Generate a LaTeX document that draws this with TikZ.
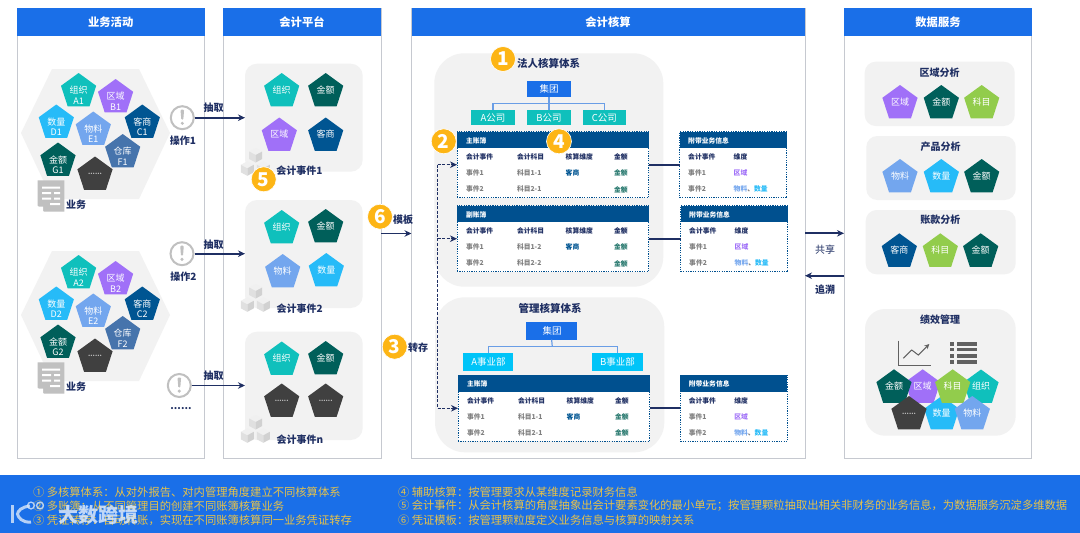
\documentclass[tikz,border=0pt]{standalone}
\usepackage{fontspec}
\setmainfont{Noto Sans CJK SC}
\usetikzlibrary{arrows.meta,shapes.geometric,fit}
\definecolor{hdr}{HTML}{1A6FE8}
\definecolor{navy}{HTML}{1F2F63}
\definecolor{pnl}{HTML}{C6C9D0}
\definecolor{soft}{HTML}{F2F2F2}
\definecolor{tblh}{HTML}{00508F}
\definecolor{cOrg}{HTML}{0FC0BC}
\definecolor{cReg}{HTML}{A070F8}
\definecolor{cCus}{HTML}{005592}
\definecolor{cQty}{HTML}{26BBF8}
\definecolor{cMat}{HTML}{73A6EE}
\definecolor{cWar}{HTML}{4674AC}
\definecolor{cAmt}{HTML}{005F5A}
\definecolor{cDot}{HTML}{404040}
\definecolor{cSub}{HTML}{92CC4C}
\definecolor{cAmtT}{HTML}{2A7A70}
\definecolor{cBU}{HTML}{00C4F8}
\definecolor{cGold}{HTML}{FDB515}
\definecolor{cNote}{HTML}{E6C24A}
\definecolor{cLine}{HTML}{6A9EE6}
\definecolor{cGray}{HTML}{808080}
\definecolor{cIcon}{HTML}{C0C0C0}
\definecolor{cMark}{HTML}{DCE9FA}
\tikzset{
  fs/.style={font=\fontsize{#1pt}{#1pt}\selectfont},
  bfs/.style={font=\fontsize{#1pt}{#1pt}\selectfont\bfseries},
  tx/.style={inner sep=0pt,outer sep=0pt},
  box/.style={inner sep=0pt,outer sep=0pt},
  panel/.style={box,draw=pnl,line width=1pt,fill=white},
  header/.style={box,fill=hdr,text=white,bfs=11.3},
  softbox/.style={box,fill=soft,rounded corners=#1},
  pentshape/.style={regular polygon,regular polygon sides=5,minimum size=37pt,inner sep=0pt,outer sep=0pt,fill=#1},
  badge/.style={circle,fill=cGold,draw=white,line width=.6pt,minimum size=25pt,inner sep=0pt,text=white,bfs=19},
  tipline/.style={draw=navy,line width=1.8pt,-{Stealth[length=7pt,width=6.5pt]}},
  plainline/.style={draw=navy,line width=1.8pt},
  dashline/.style={draw=navy,line width=1.1pt,dash pattern=on 3pt off 1.6pt},
  dashtip/.style={dashline,-{Stealth[length=7pt,width=6.5pt]}},
  org/.style={draw=cLine,line width=1.2pt},
  tbl/.style={box,draw=tblh,line width=1pt,dash pattern=on 1.2pt off 1.2pt,fill=white},
  tblhead/.style={box,fill=tblh},
  warn/.style={circle,draw=cIcon,line width=2pt,fill=white,minimum size=23pt,inner sep=0pt},
}
\newcounter{nid}
\newcommand\lab[4][]{\stepcounter{nid}\node[tx,#1] (n\arabic{nid}) at (#2,#3) {#4};}
\newcommand\bx[6][]{\node[#1,fit={(#3,#4)(#5,#6)}] (#2) {};}
% pentagon with one line
\newcommand\penta[4]{\stepcounter{nid}\node[pentshape=#3] (n\arabic{nid}) at (#1,#2) {};
  \pgfmathsetmacro\ly{#2-1.5}\lab[fs=9,text=white]{#1}{\ly}{#4}}
% pentagon with two lines
\newcommand\pentb[5]{\stepcounter{nid}\node[pentshape=#3] (n\arabic{nid}) at (#1,#2) {};
  \pgfmathsetmacro\ly{#2-1.2}\lab[fs=9,text=white]{#1}{\ly}{#4}
  \pgfmathsetmacro\ly{#2+9.6}\lab[fs=9,text=white]{#1}{\ly}{#5}}
\newcommand\pentd[2]{\stepcounter{nid}\node[pentshape=cDot] (n\arabic{nid}) at (#1,#2) {};
  \pgfmathsetmacro\ly{#2-1}\lab[bfs=6.5,text=white!75!black]{#1}{\ly}{......}}
% business hexagon: suffix, y offset
\newcommand\bizgroup[2]{\begin{scope}[yshift=-#2pt]
  \fill[soft] (21,133)--(52,69)--(139,69)--(170,133)--(139,199)--(52,199)--cycle;
  \pentb{78.6}{91.5}{cOrg}{组织}{A#1}
  \pentb{115.6}{97.5}{cReg}{区域}{B#1}
  \pentb{142.3}{123}{cCus}{客商}{C#1}
  \pentb{56.3}{123}{cQty}{数量}{D#1}
  \pentb{93.3}{130}{cMat}{物料}{E#1}
  \pentb{122.7}{152.5}{cWar}{仓库}{F#1}
  \pentb{58}{161}{cAmt}{金额}{G#1}
  \pentd{95}{175}
  % document icon
  \fill[cIcon] (37.7,180.3)--(64.3,180.3)--(64.3,211.7)--(44,211.7)--(37.7,205.5)--cycle;
  \fill[white] (42,186.5) rectangle (60,188.5) (42,192) rectangle (51,194) (54,192) rectangle (60,194)
     (42,197.5) rectangle (51,199.5) (54,197.5) rectangle (60,199.5) (50,203) rectangle (60,205);
  \fill[white] (38,206.5)--(43,211.7)--(43,206.5)--cycle;
  \lab[bfs=10,text=navy]{76}{205}{业务}
\end{scope}}
% cube trio
\newcommand\cube[2]{\begin{scope}[shift={(#1,#2)}]
  \fill[black!6] (0,-7)--(6.5,-3.5)--(0,0)--(-6.5,-3.5)--cycle;
  \fill[black!12] (-6.5,-3.5)--(0,0)--(0,7.5)--(-6.5,4)--cycle;
  \fill[black!18] (6.5,-3.5)--(0,0)--(0,7.5)--(6.5,4)--cycle;
\end{scope}}
\newcommand\cubes[1]{\cube{255.7}{#1}\pgfmathsetmacro\cy{#1+13.3}\cube{247.3}{\cy}\cube{263.3}{\cy}}
% main ledger table: name, x0, y0, title, rows
\newcommand\mainT[6]{%
  \pgfmathsetmacro\xb{#2+191.7}\pgfmathsetmacro\yb{#3+66}\pgfmathsetmacro\yh{#3+16.6}
  \bx[tbl]{#1}{#2}{#3}{\xb}{\yb}
  \bx[tblhead]{#1h}{#2}{#3}{\xb}{\yh}
  \pgfmathsetmacro\ca{#2+9}\pgfmathsetmacro\cb{#2+60}\pgfmathsetmacro\cc{#2+108.7}\pgfmathsetmacro\cd{#2+157}
  \pgfmathsetmacro\ra{#3+9}\pgfmathsetmacro\rb{#3+25.2}\pgfmathsetmacro\rc{#3+41.4}\pgfmathsetmacro\rd{#3+57.7}
  \lab[bfs=6.8,text=white,anchor=west]{\ca}{\ra}{#4}
  \lab[bfs=6.8,text=navy,anchor=west]{\ca}{\rb}{会计事件}
  \lab[bfs=6.8,text=navy,anchor=west]{\cb}{\rb}{会计科目}
  \lab[bfs=6.8,text=navy,anchor=west]{\cc}{\rb}{核算维度}
  \lab[bfs=6.8,text=navy,anchor=west]{\cd}{\rb}{金额}
  \lab[bfs=6.8,text=cGray,anchor=west]{\ca}{\rc}{事件1}
  \lab[bfs=6.8,text=cGray,anchor=west]{\cb}{\rc}{#5}
  \lab[bfs=6.8,text=cCus,anchor=west]{\cc}{\rc}{客商}
  \lab[bfs=6.8,text=cAmtT,anchor=west]{\cd}{\rc}{金额}
  \lab[bfs=6.8,text=cGray,anchor=west]{\ca}{\rd}{事件2}
  \lab[bfs=6.8,text=cGray,anchor=west]{\cb}{\rd}{#6}
  \lab[bfs=6.8,text=cAmtT,anchor=west]{\cd}{\rd}{金额}
}
\newcommand\sideT[3]{%
  \pgfmathsetmacro\xb{#2+107}\pgfmathsetmacro\yb{#3+66}\pgfmathsetmacro\yh{#3+16.6}
  \bx[tbl]{#1}{#2}{#3}{\xb}{\yb}
  \bx[tblhead]{#1h}{#2}{#3}{\xb}{\yh}
  \pgfmathsetmacro\ca{#2+8.5}\pgfmathsetmacro\cb{#2+54}
  \pgfmathsetmacro\ra{#3+9}\pgfmathsetmacro\rb{#3+25.2}\pgfmathsetmacro\rc{#3+41.4}\pgfmathsetmacro\rd{#3+57.7}
  \lab[bfs=6.8,text=white,anchor=west]{\ca}{\ra}{附带业务信息}
  \lab[bfs=6.8,text=navy,anchor=west]{\ca}{\rb}{会计事件}
  \lab[bfs=6.8,text=navy,anchor=west]{\cb}{\rb}{维度}
  \lab[bfs=6.8,text=cGray,anchor=west]{\ca}{\rc}{事件1}
  \lab[bfs=6.8,text=cReg,anchor=west]{\cb}{\rc}{区域}
  \lab[bfs=6.8,text=cGray,anchor=west]{\ca}{\rd}{事件2}
  \lab[bfs=6.8,anchor=west]{\cb}{\rd}{\textcolor{cMat}{物料}\textcolor{cGray}{、}\textcolor{cQty}{数量}}
}
\begin{document}
\begin{tikzpicture}[x=1pt,y=-1pt]
\path[use as bounding box,fill=white] (0,0) rectangle (1080,533);
% panels
\bx[panel]{P1}{17}{8}{204.5}{458.5}
\bx[panel]{P2}{223}{8}{381}{458.5}
\bx[panel]{P3}{411.5}{8}{805}{458.5}
\bx[panel]{P4}{844}{8}{1031.5}{458.5}
\node[header,fit={(17,8)(204.5,36)}] (H1) {};
\node[header,fit={(223,8)(381,36)}] (H2) {};
\node[header,fit={(411.5,8)(805,36)}] (H3) {};
\node[header,fit={(844,8)(1031.5,36)}] (H4) {};
\lab[bfs=11.3,text=white]{110.7}{22}{业务活动}
\lab[bfs=11.3,text=white]{302}{22}{会计平台}
\lab[bfs=11.3,text=white]{608}{22}{会计核算}
\lab[bfs=11.3,text=white]{938}{22}{数据服务}
% business activity
\bizgroup{1}{0}
\bizgroup{2}{182}
\node[warn] (w1) at (182.3,117.7) {};
\node[warn] (w2) at (182,253.7) {};
\node[warn] (w3) at (179.3,385.5) {};
\foreach \wx/\wy in {182.3/117.7,182/253.7,179.3/385.5}{
  \fill[cIcon,rounded corners=1pt] (\wx-1.8,\wy-8)--(\wx+1.8,\wy-8)--(\wx+1,\wy+2)--(\wx-1,\wy+2)--cycle;
  \fill[cIcon] (\wx,\wy+5.6) circle (1.7);
}
\lab[bfs=10,text=navy]{183}{140.5}{操作1}
\lab[bfs=10,text=navy]{183.3}{277}{操作2}
\lab[bfs=10,text=navy]{181}{409}{......}
% event boxes
\bx[softbox=12pt]{E1}{245}{63.7}{362.7}{171.7}
\bx[softbox=12pt]{E2}{245}{200}{362.7}{308}
\bx[softbox=12pt]{E3}{245}{331.7}{362.7}{440}
\draw[tipline] (w1) -- (w1 -| E1.west);
\draw[tipline] (w2) -- (w2 -| E2.west);
\draw[tipline] (w3) -- (w3 -| E3.west);
\lab[bfs=10,text=navy]{213.7}{107.5}{抽取}
\lab[bfs=10,text=navy]{213.7}{245}{抽取}
\lab[bfs=10,text=navy]{213.7}{375.5}{抽取}
\penta{281.7}{91.5}{cOrg}{组织}
\penta{325.7}{91.5}{cAmt}{金额}
\penta{279.3}{136}{cReg}{区域}
\penta{325.7}{136}{cCus}{客商}
\penta{281.7}{228.5}{cOrg}{组织}
\penta{325.7}{227.5}{cAmt}{金额}
\penta{282.7}{272.5}{cMat}{物料}
\penta{326.3}{271.5}{cQty}{数量}
\penta{281.7}{360}{cOrg}{组织}
\penta{325.7}{359.5}{cAmt}{金额}
\pentd{281.7}{402}
\pentd{325.7}{402}
\cubes{155}
\cubes{291}
\cubes{422}
\lab[bfs=10,text=navy]{299.3}{171}{会计事件1}
\lab[bfs=10,text=navy]{299.7}{308.7}{会计事件2}
\lab[bfs=10,text=navy]{300}{440}{会计事件n}
\node[badge] (b5) at (263.7,179.3) {5};
% accounting
\bx[softbox=30pt]{K1}{434.3}{53.3}{663.3}{286.7}
\bx[softbox=30pt]{K2}{435}{297.3}{664.3}{452.3}
\lab[bfs=10.5,text=navy]{548.7}{63}{法人核算体系}
\lab[bfs=10.5,text=navy]{550}{308}{管理核算体系}
\node[box,fill=hdr,fit={(527,81.3)(571,97)}] (g1) {};
\node[box,fill=cOrg,fit={(471,110)(515,125.3)}] (ca) {};
\node[box,fill=cOrg,fit={(527,110)(571,125.3)}] (cb) {};
\node[box,fill=cOrg,fit={(582.7,110)(626,125.3)}] (cc) {};
\coordinate (j1) at (549,103.3);
\draw[org] (g1.south) -- (cb.north);
\draw[org] (ca.north) |- (j1) -| (cc.north);
\lab[fs=9.5,text=white]{549}{89}{集团}
\lab[fs=9.5,text=white]{493}{117.5}{A公司}
\lab[fs=9.5,text=white]{549}{117.5}{B公司}
\lab[fs=9.5,text=white]{604.4}{117.5}{C公司}
\node[box,fill=hdr,fit={(526.3,322)(577,339.7)}] (g2) {};
\node[box,fill=cBU,fit={(463.3,352.7)(513.3,371)}] (da) {};
\node[box,fill=cBU,fit={(592.3,352.7)(642.7,371)}] (db) {};
\coordinate (j2) at (552.3,346.7);
\draw[org] (g2.south) -- (j2);
\draw[org] (da.north) |- (j2) -| (db.north);
\lab[fs=9.5,text=white]{552}{331}{集团}
\lab[fs=9.5,text=white]{488.5}{361.5}{A事业部}
\lab[fs=9.5,text=white]{617.5}{361.5}{B事业部}
\mainT{T1}{457}{131.7}{主账簿}{科目1-1}{科目2-1}
\mainT{T2}{457}{205.7}{副账簿}{科目1-2}{科目2-2}
\mainT{T3}{458}{375.3}{主账簿}{科目1-1}{科目2-1}
\sideT{S1}{679.7}{131.7}
\sideT{S2}{680.7}{205.7}
\sideT{S3}{680.3}{375.3}
\draw[plainline] (T1.east) -- (S1.west);
\draw[plainline] (T2.east) -- (S2.west);
\draw[plainline] (T3.east) -- (S3.west);
\coordinate (d1) at (437.5,164.7);
\coordinate (d2) at (437.5,238.7);
\coordinate (d3) at (437.5,408.3);
\draw[dashline] (d1) -- (d3);
\draw[dashtip] (d1) -- (T1.west);
\draw[dashtip] (d2) -- (T2.west);
\draw[dashtip] (d3) -- (T3.west);
\node[badge] (b1) at (503,59) {1};
\node[badge] (b2) at (443.7,141.3) {2};
\node[badge] (b4) at (559,141.3) {4};
\node[badge] (b6) at (380,216.7) {6};
\node[badge] (b3) at (394.7,346.7) {3};
\lab[bfs=10,text=navy]{403}{220}{模板}
\lab[bfs=10,text=navy]{418}{347.7}{转存}
\coordinate (tm) at (381,233.5);
\draw[tipline] (tm) -- (tm -| P3.west);
% sharing
\coordinate (sa) at (805,233.3);
\coordinate (sb) at (844,275.7);
\draw[tipline] (sa) -- (sa -| P4.west);
\draw[tipline] (sb) -- (sb -| P3.east);
\lab[fs=10,text=navy]{825}{250}{共享}
\lab[bfs=10,text=navy]{825}{290}{追溯}
% data service
\bx[softbox=11pt]{A1}{864.7}{61.7}{1014.7}{126}
\bx[softbox=11pt]{A2}{866.3}{136}{1015.7}{200}
\bx[softbox=11pt]{A3}{865.7}{210}{1015.7}{274.3}
\bx[softbox=20pt]{A4}{865}{309}{1015.7}{435.7}
\lab[bfs=10,text=navy]{939.7}{72.7}{区域分析}
\lab[bfs=10,text=navy]{940.7}{146.7}{产品分析}
\lab[bfs=10,text=navy]{940.3}{220}{账款分析}
\lab[bfs=10,text=navy]{940}{319.7}{绩效管理}
\penta{900}{103.5}{cReg}{区域}
\penta{941.3}{103.5}{cAmt}{金额}
\penta{981.7}{103.5}{cSub}{科目}
\penta{900}{177.5}{cMat}{物料}
\penta{941.3}{177.5}{cQty}{数量}
\penta{981.7}{177.5}{cAmt}{金额}
\penta{899.3}{251.8}{cCus}{客商}
\penta{940.3}{251.8}{cSub}{科目}
\penta{980.7}{251.8}{cAmt}{金额}
% chart icon
\draw[black!62,line width=.9pt] (898.3,340.7) -- (898.3,365.3) -- (931,365.3);
\draw[black!62,line width=1pt,-{Stealth[length=5pt,width=5pt]}] (903.3,358.3) -- (911.7,350) -- (918.3,355) -- (929.3,344);
\foreach \ly in {344,349.7,356,362}{
  \fill[black!62] (949.7,\ly-1.7) rectangle (953.7,\ly+1.7);
  \fill[black!62] (957.3,\ly-1.7) rectangle (977,\ly+1.7);
}
\penta{922.7}{387.8}{cReg}{区域}
\penta{941.7}{414.5}{cQty}{数量}
\penta{981}{388}{cOrg}{组织}
\penta{894}{387.8}{cAmt}{金额}
\penta{952.7}{387.8}{cSub}{科目}
\penta{972.3}{414.5}{cMat}{物料}
\pentd{909}{414.5}
% bottom band
\node[box,fill=hdr,fit={(0,474.5)(1080,533)}] (band) {};
\lab[fs=11.3,text=cNote,anchor=west]{33}{492.4}{① 多核算体系：从对外报告、对内管理角度建立不同核算体系}
\lab[fs=11.3,text=cNote,anchor=west]{33}{506}{② 多账簿：从不同管理目的创建不同账簿核算业务}
\lab[fs=11.3,text=cNote,anchor=west]{33}{520}{③ 凭证转存：自动转账，实现在不同账簿核算同一业务凭证转存}
\lab[fs=11.3,text=cNote,anchor=west]{398}{492.4}{④ 辅助核算：按管理要求从某维度记录财务信息}
\lab[fs=11.3,text=cNote,anchor=west]{398}{506}{⑤ 会计事件：从会计核算的角度抽象出会计要素变化的最小单元；按管理颗粒抽取出相关非财务的业务信息，为数据服务沉淀多维数据}
\lab[fs=11.3,text=cNote,anchor=west]{398}{520}{⑥ 凭证模板：按管理颗粒度定义业务信息与核算的映射关系}
% watermark
\draw[cMark,opacity=.8,line width=3pt] (12,505) -- (12,523);
\draw[cMark,opacity=.8,line width=3pt] (30,506) .. controls (21,507) and (18,511) .. (17.5,514) .. controls (18,517) and (22,523) .. (31,522);
\draw[cMark,opacity=.8,line width=1.3pt] (31,505.5) circle (3.4) (40,505.5) circle (3.4);
\lab[bfs=20,text=cMark,text opacity=.85]{98.5}{515}{大数跨境}
\end{tikzpicture}
\end{document}
